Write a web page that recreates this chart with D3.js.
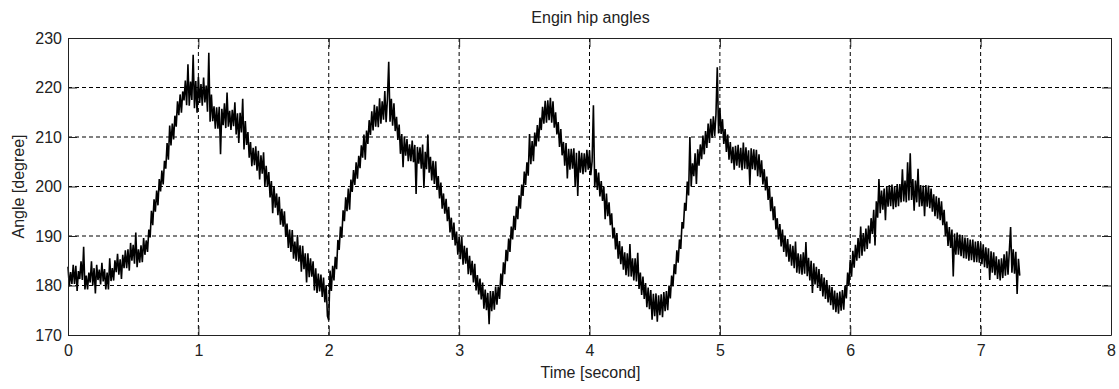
<!DOCTYPE html>
<html>
<head>
<meta charset="utf-8">
<script src="https://cdn.jsdelivr.net/npm/d3@7"></script>
<style>
  body { margin: 0; background: #fff; }
  svg text { font-family: "Liberation Sans", Arial, sans-serif; fill: #222; }
</style>
</head>
<body>
<div id="chart"></div>
<script>
var width = 1119
var height = 389
var margin = { top: 38, right: 8, bottom: 54, left: 68 };

var chartTitle = "Engin hip angles";
var xLabel = "Time [second]";
var yLabel = "Angle [degree]";

var xTicks = [0, 1, 2, 3, 4, 5, 6, 7, 8];
var yTicks = [170, 180, 190, 200, 210, 220, 230];

// one sample every 0.01 s, starting at t = 0
var sampleStep = 0.01;
var hipAngle = [
183.8,179.8,182.7,180.3,184.2, 180.3,184.0,178.9,182.9,181.3, 184.9,181.1,187.8,179.2,182.0, 179.2,182.6,180.6,184.9,180.0,
183.5,178.4,184.2,181.1,183.2, 180.2,184.6,180.8,183.3,179.2, 182.6,179.2,185.5,180.9,183.5, 181.0,185.1,182.7,186.4,182.2,
185.3,181.3,186.2,183.5,187.1, 183.5,187.3,183.0,188.6,185.0, 188.2,184.4,190.7,183.7,187.3, 184.6,188.1,184.7,189.6,186.2,
189.1,186.8,191.3,189.7,195.1, 192.2,197.4,194.9,199.2,196.2, 201.5,199.0,203.2,200.4,205.2, 203.6,208.8,205.4,212.3,208.3,
212.7,209.5,214.3,212.1,217.2, 214.4,218.6,214.9,219.2,217.4, 221.4,216.4,224.7,216.3,221.2, 217.5,226.6,215.8,221.3,214.9,
222.1,216.9,220.7,216.3,222.0, 217.0,220.4,215.1,227.0,213.1, 218.6,213.2,216.2,211.7,216.0, 211.7,216.1,206.5,215.7,212.4,
216.8,211.8,219.0,212.1,215.3, 211.4,215.5,212.2,217.0,210.5, 214.8,208.8,214.9,210.9,217.7, 207.5,213.2,208.4,211.0,205.8,
209.0,204.1,207.8,204.3,208.1, 203.2,207.2,201.4,206.3,202.6, 206.9,200.1,204.2,200.0,202.9, 197.8,201.1,194.6,200.1,195.7,
198.6,194.2,197.9,192.3,195.5, 191.9,195.0,189.8,192.5,187.6, 191.3,186.8,191.2,185.4,188.9, 185.0,190.2,184.8,188.1,182.8,
188.0,183.3,186.5,180.6,186.5, 181.7,185.5,181.8,184.9,179.0, 183.5,178.5,182.4,178.8,182.2, 177.7,181.6,176.6,180.1,173.8,
173.0,183.0,178.9,184.0,181.0, 185.8,183.3,189.2,187.2,191.9, 189.6,195.2,193.0,197.8,195.0, 199.6,195.3,201.4,198.9,203.3,
200.3,204.9,201.6,206.2,203.7, 208.3,205.8,210.5,205.4,211.3, 208.6,213.4,210.4,215.2,211.3, 216.5,212.1,216.2,212.0,217.8,
212.7,217.2,213.5,219.3,213.0, 217.7,225.2,213.1,217.7,212.3, 216.8,211.2,214.1,209.4,212.5, 206.6,210.6,203.9,210.1,206.2,
209.6,205.1,208.5,205.1,209.3, 204.9,208.4,198.5,208.0,204.6, 207.9,203.6,208.5,199.7,207.0, 203.5,210.5,202.8,206.0,201.2,
205.2,200.5,205.1,199.3,202.1, 197.6,200.8,195.5,198.6,194.5, 197.5,193.0,195.9,190.7,193.7, 189.2,192.7,188.1,190.9,186.2,
189.8,185.3,189.9,184.2,188.0, 184.4,187.6,182.3,186.0,182.1, 185.0,180.6,184.4,179.0,182.1, 178.2,181.4,177.2,180.6,175.3,
179.2,175.0,178.5,172.2,178.9, 174.8,178.9,175.1,179.8,176.1, 179.8,177.3,182.4,180.0,184.7, 182.3,187.2,184.9,189.5,186.8,
191.9,189.3,194.1,191.2,196.0, 193.4,198.2,195.5,200.4,198.1, 203.0,200.3,204.9,202.2,210.6, 204.5,209.2,205.1,210.9,208.1,
212.4,209.1,213.9,211.4,216.1, 212.7,217.3,212.9,217.4,213.4, 217.9,212.9,217.2,211.9,215.0, 210.5,213.0,208.0,211.6,206.3,
209.0,204.2,208.8,201.6,207.6, 203.4,207.6,203.6,207.7,200.1, 206.8,198.1,207.2,202.8,206.8, 202.5,206.7,202.9,207.4,203.4,
207.3,202.3,205.1,216.4,199.8, 203.5,199.3,202.8,198.0,201.1, 197.1,200.0,193.4,198.6,194.0, 196.8,192.2,194.6,189.5,191.7,
187.3,190.6,185.4,189.0,184.3, 187.9,183.2,186.7,182.1,186.5, 181.8,188.4,181.8,185.5,181.0, 185.5,180.8,186.6,179.3,182.6,
178.1,181.8,177.3,180.5,175.6, 179.6,175.2,179.1,173.1,178.3, 173.8,178.4,172.7,178.0,174.0, 178.2,173.6,178.7,174.8,178.9,
175.0,180.0,177.4,182.0,179.8, 184.3,182.3,187.1,184.6,189.3, 187.4,192.8,191.5,196.7,195.1, 201.0,198.2,210.0,200.0,204.7,
202.1,206.7,200.5,207.5,204.2, 208.5,205.5,210.3,206.5,211.2, 207.8,212.7,208.8,213.7,209.8, 214.2,210.2,214.6,224.1,210.7,
215.9,210.6,213.6,208.6,211.6, 207.0,210.5,205.4,209.0,204.7, 208.0,203.4,208.2,204.2,208.4, 203.8,207.8,203.3,208.9,203.6,
207.9,203.5,207.3,200.2,207.7, 203.5,207.5,203.3,207.4,202.1, 206.5,201.9,205.3,200.4,203.5, 199.2,202.0,197.3,199.9,195.0,
197.9,193.2,196.0,191.3,193.6, 189.3,192.4,187.9,191.3,186.8, 190.0,185.8,189.4,184.8,188.3, 184.0,188.0,183.5,188.9,182.6,
186.5,182.4,186.3,182.2,186.7, 182.4,188.8,181.9,185.6,181.0, 185.0,178.5,184.5,180.2,183.8, 179.5,183.3,178.9,182.3,177.8,
181.6,177.3,181.1,176.6,180.1, 176.0,179.7,175.1,179.0,174.6, 178.5,174.3,178.8,174.9,179.1, 175.1,180.0,177.4,182.6,180.0,
185.2,181.8,187.0,183.6,188.2, 185.0,189.6,185.5,191.9,186.0, 190.6,186.9,191.5,187.4,192.1, 188.5,193.6,190.4,195.3,188.1,
197.0,193.7,201.5,194.6,199.2, 195.3,199.6,193.2,200.1,195.9, 200.3,196.0,200.4,195.4,200.0, 195.8,200.5,196.0,200.5,196.8,
203.5,197.0,201.2,196.8,204.9, 197.2,206.7,197.3,201.5,195.1, 201.2,196.8,203.6,195.9,200.3, 196.0,200.2,194.0,200.3,195.9,
200.2,195.6,199.6,194.9,198.4, 194.0,198.0,193.5,197.7,193.2, 197.0,192.2,195.3,190.0,192.9, 188.0,191.8,187.6,191.3,181.8,
190.5,186.2,190.7,186.2,190.3, 185.9,190.2,185.5,189.7,185.4, 189.6,185.0,189.3,185.1,189.3, 184.7,188.9,184.7,189.0,184.6,
188.7,184.3,188.3,183.7,187.7, 183.5,187.5,181.1,186.9,182.6, 186.7,182.1,185.9,181.3,185.3, 181.0,185.5,181.5,186.3,182.0,
186.9,182.2,186.9,191.8,182.6, 187.3,182.4,186.8,178.3,185.4, 182.0
];

var svg = d3.select("#chart").append("svg")
    .attr("width", width)
    .attr("height", height);

svg.append("rect")
    .attr("width", width)
    .attr("height", height)
    .attr("fill", "#fff");

var xScale = d3.scaleLinear()
    .domain([0, 8])
    .range([margin.left, width - margin.right]);

var yScale = d3.scaleLinear()
    .domain([170, 230])
    .range([height - margin.bottom, margin.top]);

var plotL = xScale(0), plotR = xScale(8), plotT = yScale(230), plotB = yScale(170);

// dotted grid (matlab style)
var grid = svg.append("g").attr("class", "grid");
grid.selectAll(".vgrid")
    .data(xTicks.slice(1, -1))
    .enter().append("line")
    .attr("x1", function(d) { return xScale(d); })
    .attr("x2", function(d) { return xScale(d); })
    .attr("y1", plotT)
    .attr("y2", plotB)
    .attr("stroke", "#000")
    .attr("stroke-width", 1)
    .attr("stroke-dasharray", "4,3");
grid.selectAll(".hgrid")
    .data(yTicks.slice(1, -1))
    .enter().append("line")
    .attr("x1", plotL)
    .attr("x2", plotR)
    .attr("y1", function(d) { return yScale(d); })
    .attr("y2", function(d) { return yScale(d); })
    .attr("stroke", "#000")
    .attr("stroke-width", 1)
    .attr("stroke-dasharray", "4,3");

var line = d3.line()
    .x(function(_d, i) { return xScale(i * sampleStep); })
    .y(function(d) { return yScale(d); });

svg.append("path")
    .datum(hipAngle)
    .attr("fill", "none")
    .attr("stroke", "#000")
    .attr("stroke-width", 1.6)
    .attr("stroke-linejoin", "miter")
    .attr("d", line);

// axes, ticks pointing inwards
var tickLen = 9;
var fmt = d3.format("d");

svg.append("g")
    .attr("transform", "translate(0," + plotB + ")")
    .call(d3.axisBottom(xScale).tickValues(xTicks).tickFormat(fmt)
        .tickSize(-tickLen).tickSizeOuter(0).tickPadding(10));

svg.append("g")
    .attr("transform", "translate(0," + plotT + ")")
    .call(d3.axisTop(xScale).tickValues(xTicks).tickFormat("")
        .tickSize(-tickLen).tickSizeOuter(0));

svg.append("g")
    .attr("transform", "translate(" + plotL + ",0)")
    .call(d3.axisLeft(yScale).tickValues(yTicks).tickFormat(fmt)
        .tickSize(-tickLen).tickSizeOuter(0).tickPadding(6));

svg.append("g")
    .attr("transform", "translate(" + plotR + ",0)")
    .call(d3.axisRight(yScale).tickValues(yTicks).tickFormat("")
        .tickSize(-tickLen).tickSizeOuter(0));

svg.selectAll(".domain, .tick line")
    .attr("stroke", "#222")
    .attr("stroke-width", 1);
svg.selectAll(".tick text")
    .attr("font-size", 16)
    .attr("fill", "#222");

svg.append("text")
    .attr("x", (plotL + plotR) / 2 + 1)
    .attr("y", 23)
    .attr("text-anchor", "middle")
    .attr("font-size", 16)
    .text(chartTitle);

svg.append("text")
    .attr("x", (plotL + plotR) / 2 + 1)
    .attr("y", 378)
    .attr("text-anchor", "middle")
    .attr("font-size", 16)
    .text(xLabel);

svg.append("text")
    .attr("transform", "translate(24," + ((plotT + plotB) / 2) + ") rotate(-90)")
    .attr("text-anchor", "middle")
    .attr("font-size", 16)
    .text(yLabel);
</script>
</body>
</html>
